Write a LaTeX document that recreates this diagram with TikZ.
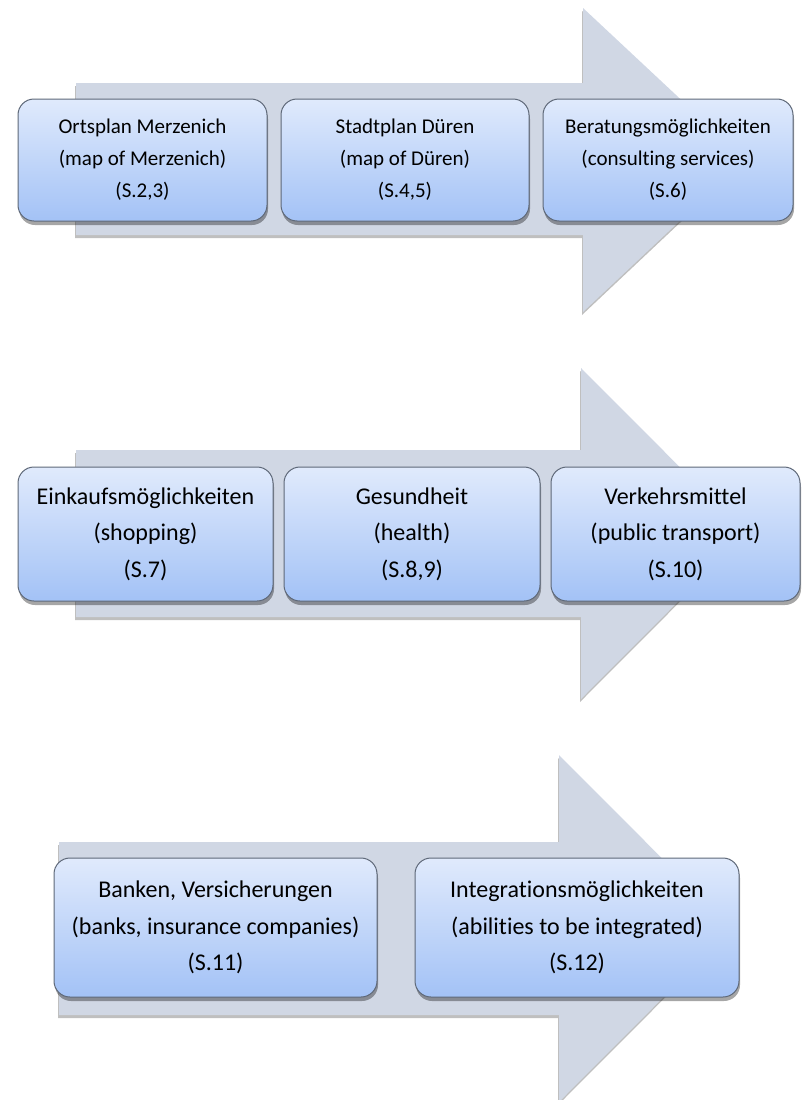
\documentclass[tikz,border=0pt]{standalone}
\usepackage{fontspec}
\setmainfont{Carlito}[RawFeature={-liga}]
\usetikzlibrary{shadows}
\definecolor{arrowc}{HTML}{D0D7E4}
\definecolor{boxtop}{HTML}{E0EAFC}
\definecolor{boxbot}{HTML}{A3C2F6}
\definecolor{boxline}{HTML}{5E6878}
\tikzset{
  bigarrow/.style={fill=arrowc, drop shadow={shadow xshift=-1pt, shadow yshift=-3pt, opacity=0.25, fill=black}},
  stepbox/.style={draw=boxline, line width=1pt, rounded corners=16pt, top color=boxtop, bottom color=boxbot,
    align=center, text=black, inner sep=2pt,
    drop shadow={shadow xshift=1pt, shadow yshift=-4pt, opacity=0.35, fill=black}},
  small/.style={font=\fontsize{21}{32}\selectfont},
  large/.style={font=\fontsize{24}{36.5}\selectfont},
}
\begin{document}
\begin{tikzpicture}[x=1pt,y=-1pt]
\useasboundingbox (0,0) rectangle (802,1100);
% arrows
\fill[bigarrow] (76,83) -- (583,83) -- (583,8) -- (745,159.5) -- (583,312) -- (583,235) -- (76,235) -- cycle;
\fill[bigarrow] (76,450) -- (581,450) -- (581,368) -- (746,533.5) -- (581,699) -- (581,617) -- (76,617) -- cycle;
\fill[bigarrow] (59,842) -- (559,842) -- (559,755) -- (732,928.5) -- (559,1102) -- (559,1015) -- (59,1015) -- cycle;
% row 1
\node[stepbox, small, minimum width=249pt, minimum height=122pt] (a1) at (142.5,160) {Ortsplan Merzenich\\(map of Merzenich)\\(S.2,3)};
\node[stepbox, small, minimum width=248pt, minimum height=122pt] (a2) at (405,160) {Stadtplan Düren\\(map of Düren)\\(S.4,5)};
\node[stepbox, small, minimum width=250pt, minimum height=122pt] (a3) at (668,160) {Beratungsmöglichkeiten\\(consulting services)\\(S.6)};
% row 2
\node[stepbox, large, minimum width=255pt, minimum height=134pt] (b1) at (145.5,534) {Einkaufsmöglichkeiten\\(shopping)\\(S.7)};
\node[stepbox, large, minimum width=256pt, minimum height=134pt] (b2) at (412,534) {Gesundheit\\(health)\\(S.8,9)};
\node[stepbox, large, minimum width=249pt, minimum height=134pt] (b3) at (675.5,534) {Verkehrsmittel\\(public transport)\\(S.10)};
% row 3
\node[stepbox, large, minimum width=323pt, minimum height=139pt] (c1) at (215.5,927.5) {Banken, Versicherungen\\(banks, insurance companies)\\(S.11)};
\node[stepbox, large, minimum width=324pt, minimum height=139pt] (c2) at (577,927.5) {Integrationsmöglichkeiten\\(abilities to be integrated)\\(S.12)};
\end{tikzpicture}
\end{document}
